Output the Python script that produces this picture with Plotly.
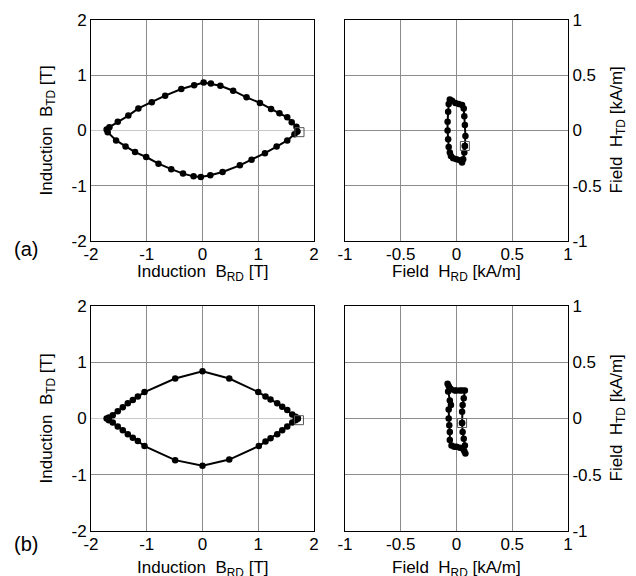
import plotly.graph_objects as go

# ---- data (a) ----
a_brd = [1.70, 1.685, 1.60, 1.52, 1.38, 1.23, 1.03, 0.79, 0.55, 0.32, 0.15, 0.02, -0.15, -0.38, -0.67, -0.91,
         -1.15, -1.33, -1.52, -1.67, -1.72, -1.70, -1.55, -1.38, -1.21, -1.01, -0.79, -0.56, -0.35, -0.16,
         -0.03, 0.14, 0.36, 0.67, 0.88, 1.12, 1.33, 1.52, 1.65, 1.70]
a_btd = [-0.02, 0.07, 0.15, 0.24, 0.31, 0.39, 0.50, 0.60, 0.72, 0.81, 0.85, 0.87, 0.82, 0.75, 0.63, 0.51,
         0.40, 0.27, 0.16, 0.06, 0.02, -0.03, -0.18, -0.29, -0.39, -0.48, -0.60, -0.70, -0.78, -0.83,
         -0.84, -0.81, -0.75, -0.63, -0.53, -0.41, -0.29, -0.18, -0.07, -0.02]
a_hrd = [0.075, 0.08, 0.075, 0.07, 0.065, 0.05, 0.02, -0.01, -0.04, -0.06, -0.07, -0.075, -0.08, -0.08,
         -0.075, -0.07, -0.06, -0.05, -0.03, 0.0, 0.03, 0.05, 0.06, 0.07, 0.075]
a_htd = [-0.14, -0.05, 0.05, 0.13, 0.20, 0.23, 0.24, 0.25, 0.27, 0.28, 0.24, 0.17, 0.08, 0.0,
         -0.08, -0.15, -0.20, -0.23, -0.25, -0.26, -0.27, -0.29, -0.26, -0.20, -0.14]
a_start_b = [1.74, -0.03]
a_start_h = [0.075, -0.14]

# ---- data (b) ----
b_brd = [1.71, 1.67, 1.61, 1.52, 1.43, 1.34, 1.22, 1.13, 1.00, 0.48, 0.0, -0.49, -1.04, -1.16, -1.25,
         -1.34, -1.43, -1.52, -1.61, -1.68, -1.72, -1.68, -1.61, -1.52, -1.43, -1.34, -1.25, -1.16,
         -1.04, -0.49, 0.0, 0.48, 1.01, 1.13, 1.22, 1.34, 1.43, 1.52, 1.61, 1.67, 1.71]
b_btd = [0.0, 0.03, 0.07, 0.15, 0.21, 0.27, 0.34, 0.39, 0.47, 0.71, 0.84, 0.71, 0.47, 0.39, 0.33,
         0.27, 0.20, 0.13, 0.06, 0.02, 0.0, -0.03, -0.07, -0.14, -0.21, -0.28, -0.34, -0.40,
         -0.49, -0.74, -0.84, -0.73, -0.49, -0.41, -0.35, -0.28, -0.21, -0.14, -0.07, -0.03, 0.0]
b_hrd = [0.05, 0.05, 0.055, 0.065, 0.075, 0.05, 0.03, 0.0, -0.015, -0.05, -0.06, -0.07, -0.08,
         -0.075, -0.06, -0.05, -0.07, -0.07, -0.065, -0.06, -0.06, -0.045, -0.02, 0.0, 0.03, 0.06,
         0.07, 0.08, 0.075, 0.065, 0.055, 0.05]
b_htd = [-0.04, 0.06, 0.12, 0.18, 0.25, 0.25, 0.25, 0.25, 0.25, 0.26, 0.27, 0.29, 0.31,
         0.24, 0.16, 0.12, 0.08, 0.0, -0.06, -0.12, -0.19, -0.24, -0.25, -0.25, -0.26, -0.27,
         -0.29, -0.31, -0.24, -0.18, -0.12, -0.04]
b_start_b = [1.73, -0.03]
b_start_h = [0.05, -0.04]

B_ticks = [-2, -1, 0, 1, 2]
H_ticks = [-1, -0.5, 0, 0.5, 1]

FONT = "Liberation Sans, Arial, sans-serif"
FS = 17

fig = go.Figure()

def add_loop(xs, ys, start, xa, ya):
    fig.add_trace(go.Scatter(x=xs, y=ys, mode="lines+markers", xaxis=xa, yaxis=ya,
                             line=dict(color="black", width=2),
                             marker=dict(color="black", size=6.5), showlegend=False))
    fig.add_trace(go.Scatter(x=[start[0]], y=[start[1]], mode="markers", xaxis=xa, yaxis=ya,
                             marker=dict(symbol="square-open", size=9, color="#555555",
                                         line=dict(width=1, color="#555555")),
                             showlegend=False))

add_loop(a_brd, a_btd, a_start_b, "x", "y")
add_loop(a_hrd, a_htd, a_start_h, "x2", "y2")
add_loop(b_brd, b_btd, b_start_b, "x3", "y3")
add_loop(b_hrd, b_htd, b_start_h, "x4", "y4")

W, H = 636, 576
colL = [91 / W, 314 / W]
colR = [345 / W, 568 / W]
rowT = [1 - 241 / H, 1 - 20 / H]
rowB = [1 - 531 / H, 1 - 306 / H]

def ax(dom, rng, ticks, anchor, side=None, zl=False, standoff=0):
    d = dict(domain=dom, range=rng, tickvals=ticks, ticktext=[("%g" % t) for t in ticks],
             showline=True, mirror=True, linecolor="black", linewidth=1,
             showgrid=True, gridcolor="#8c8c8c", gridwidth=1, ticks="",
             tickfont=dict(family=FONT, size=FS, color="black"),
             anchor=anchor, fixedrange=True, automargin=False,
             zeroline=zl, zerolinecolor="#c8c8c8", zerolinewidth=1,
             ticklabelstandoff=standoff)
    if side:
        d["side"] = side
    return d

fig.update_layout(
    width=W, height=H, margin=dict(l=0, r=0, t=0, b=0),
    paper_bgcolor="white", plot_bgcolor="white",
    xaxis=ax(colL, [-2, 2], B_ticks, "y", standoff=-2),
    yaxis=ax(rowT, [-2, 2], B_ticks, "x", zl=True),
    xaxis2=ax(colR, [-1, 1], H_ticks, "y2", standoff=-2),
    yaxis2=ax(rowT, [-1, 1], H_ticks, "x2", side="right"),
    xaxis3=ax(colL, [-2, 2], B_ticks, "y3", standoff=-2),
    yaxis3=ax(rowB, [-2, 2], B_ticks, "x3", zl=True),
    xaxis4=ax(colR, [-1, 1], H_ticks, "y4", standoff=-2),
    yaxis4=ax(rowB, [-1, 1], H_ticks, "x4", side="right"),
)

tf = dict(family=FONT, size=FS, color="black")
ann = []
for top, bot, lab, tgap, lgap in [(20, 241, "(a)", 19, 8), (306, 531, "(b)", 25, 13)]:
    cy = 1 - (top + bot) / 2 / H
    ann.append(dict(text="Induction&nbsp; B<sub>TD</sub> [T]", x=47 / W, y=cy, textangle=-90,
                    xref="paper", yref="paper", showarrow=False, font=tf,
                    xanchor="center", yanchor="middle"))
    ann.append(dict(text="Field&nbsp; H<sub>TD</sub> [kA/m]", x=617 / W, y=cy, textangle=-90,
                    xref="paper", yref="paper", showarrow=False, font=tf,
                    xanchor="center", yanchor="middle"))
    ann.append(dict(text="Induction&nbsp; B<sub>RD</sub> [T]", x=(91 + 314) / 2 / W, y=1 - (bot + tgap) / H,
                    xref="paper", yref="paper", showarrow=False, font=tf,
                    xanchor="center", yanchor="top"))
    ann.append(dict(text="Field&nbsp; H<sub>RD</sub> [kA/m]", x=(345 + 568) / 2 / W, y=1 - (bot + tgap) / H,
                    xref="paper", yref="paper", showarrow=False, font=tf,
                    xanchor="center", yanchor="top"))
    ann.append(dict(text=lab, x=12 / W, y=1 - (bot + lgap) / H, xref="paper", yref="paper",
                    showarrow=False, font=dict(family=FONT, size=20, color="black"),
                    xanchor="left", yanchor="middle"))
fig.update_layout(annotations=ann)

fig.write_html("out.html", config={"displayModeBar": False},
               post_script="document.body.style.margin='0';document.body.style.overflow='hidden';")
